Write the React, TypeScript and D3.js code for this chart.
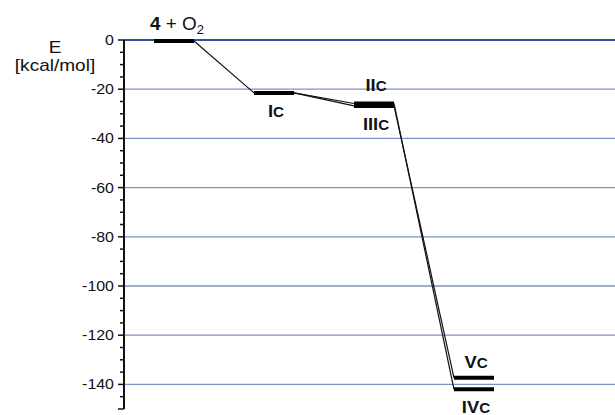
import * as d3 from "d3";
import { useEffect, useRef } from "react";

// energy levels (kcal/mol) along the reaction coordinate
const states = ["4 + O2", "IC", "IIC", "IIIC", "IVC", "VC"];
const stepIndex = [0, 1, 2, 2, 3, 3];
const energies = [-0.4, -21.5, -25.8, -26.8, -142, -137.3];
// connections between levels [from, to]
const links = [
  [0, 1],
  [1, 2],
  [1, 3],
  [2, 4],
  [3, 5],
];
const yTicks = [0, -20, -40, -60, -80, -100, -120, -140];
const yMinor = d3.range(0, -151, -5);

export default function App() {
  const ref = useRef<SVGSVGElement>(null);

  useEffect(() => {
    if (!ref.current) return;
    const svg = d3.select(ref.current);
    svg.selectAll("*").remove();

    const width = 615;
    const axisX = 124;
    const font = "Arial, 'Liberation Sans', sans-serif";

    const y = d3.scaleLinear().domain([0, -150]).range([40, 409]);
    const x = d3.scaleLinear().domain([0, 3]).range([174, 474]);
    const half = 20;

    // grid lines
    svg
      .append("g")
      .selectAll("line")
      .data(yTicks)
      .enter()
      .append("line")
      .attr("x1", axisX)
      .attr("x2", width)
      .attr("y1", (d) => y(d))
      .attr("y2", (d) => y(d))
      .attr("stroke", (d) => (d === 0 ? "#2f4f9f" : "#7f92c4"))
      .attr("stroke-width", (d) => (d === 0 ? 1.8 : 1.3));

    // y axis
    const ax = svg.append("g").attr("font-family", font);
    ax.append("line")
      .attr("x1", axisX)
      .attr("x2", axisX)
      .attr("y1", y(0))
      .attr("y2", y(-150))
      .attr("stroke", "#111")
      .attr("stroke-width", 2);
    ax.selectAll("line.minor")
      .data(yMinor)
      .enter()
      .append("line")
      .attr("class", "minor")
      .attr("x1", (d) => (d % 20 === 0 || d === -150 ? 118 : 120))
      .attr("x2", axisX)
      .attr("y1", (d) => y(d))
      .attr("y2", (d) => y(d))
      .attr("stroke", "#111")
      .attr("stroke-width", 1.5);
    ax.selectAll("text")
      .data(yTicks)
      .enter()
      .append("text")
      .attr("transform", (d) => `translate(114,${y(d)}) scale(1.1,1)`)
      .attr("dy", "0.35em")
      .attr("text-anchor", "end")
      .attr("font-size", 14.5)
      .attr("fill", "#111")
      .text((d) => String(d));

    // axis title
    const title = svg
      .append("text")
      .attr("font-family", font)
      .attr("font-size", 17)
      .attr("fill", "#111")
      .attr("text-anchor", "middle")
      .attr("transform", "translate(55,0) scale(1.12,1)");
    title.append("tspan").attr("x", 0).attr("y", 53).text("E");
    title.append("tspan").attr("x", 0).attr("y", 71).text("[kcal/mol]");

    // connectors
    svg
      .append("g")
      .selectAll("line")
      .data(links)
      .enter()
      .append("line")
      .attr("x1", ([a]) => x(stepIndex[a]) + half)
      .attr("y1", ([a]) => y(energies[a]))
      .attr("x2", ([, b]) => x(stepIndex[b]) - half)
      .attr("y2", ([, b]) => y(energies[b]))
      .attr("stroke", "#111")
      .attr("stroke-width", 1.2);

    // level bars
    svg
      .append("g")
      .selectAll("line")
      .data(states)
      .enter()
      .append("line")
      .attr("x1", (_, i) => x(stepIndex[i]) - half)
      .attr("x2", (_, i) => x(stepIndex[i]) + half)
      .attr("y1", (_, i) => y(energies[i]))
      .attr("y2", (_, i) => y(energies[i]))
      .attr("stroke", "#000")
      .attr("stroke-width", 4);

    // labels
    const lab = svg.append("g").attr("font-family", font).attr("fill", "#111");

    const t0 = lab
      .append("text")
      .attr("transform", "translate(150,30) scale(1.08,1)")
      .attr("font-size", 17.5);
    t0.append("tspan").attr("font-weight", "bold").text("4");
    t0.append("tspan").text(" + O");
    t0.append("tspan").attr("font-size", 12).attr("dy", 4).text("2");

    const roman = [
      { i: 1, dy: 24 },
      { i: 2, dy: -12 },
      { i: 3, dy: 24.5 },
      { i: 4, dy: 24 },
      { i: 5, dy: -10 },
    ];
    roman.forEach(({ i, dy }) => {
      const name = states[i];
      const t = lab
        .append("text")
        .attr("transform", `translate(${x(stepIndex[i]) + 2},${y(energies[i]) + dy}) scale(1.08,1)`)
        .attr("text-anchor", "middle")
        .attr("font-weight", "bold")
        .attr("font-size", 17);
      t.append("tspan").text(name.slice(0, -1));
      t.append("tspan").attr("font-size", 14).text(name.slice(-1));
    });
  }, []);

  return (
    <svg
      ref={ref}
      width={615}
      height={415}
      style={{ position: "absolute", left: 0, top: 0, background: "#fff" }}
    />
  );
}
